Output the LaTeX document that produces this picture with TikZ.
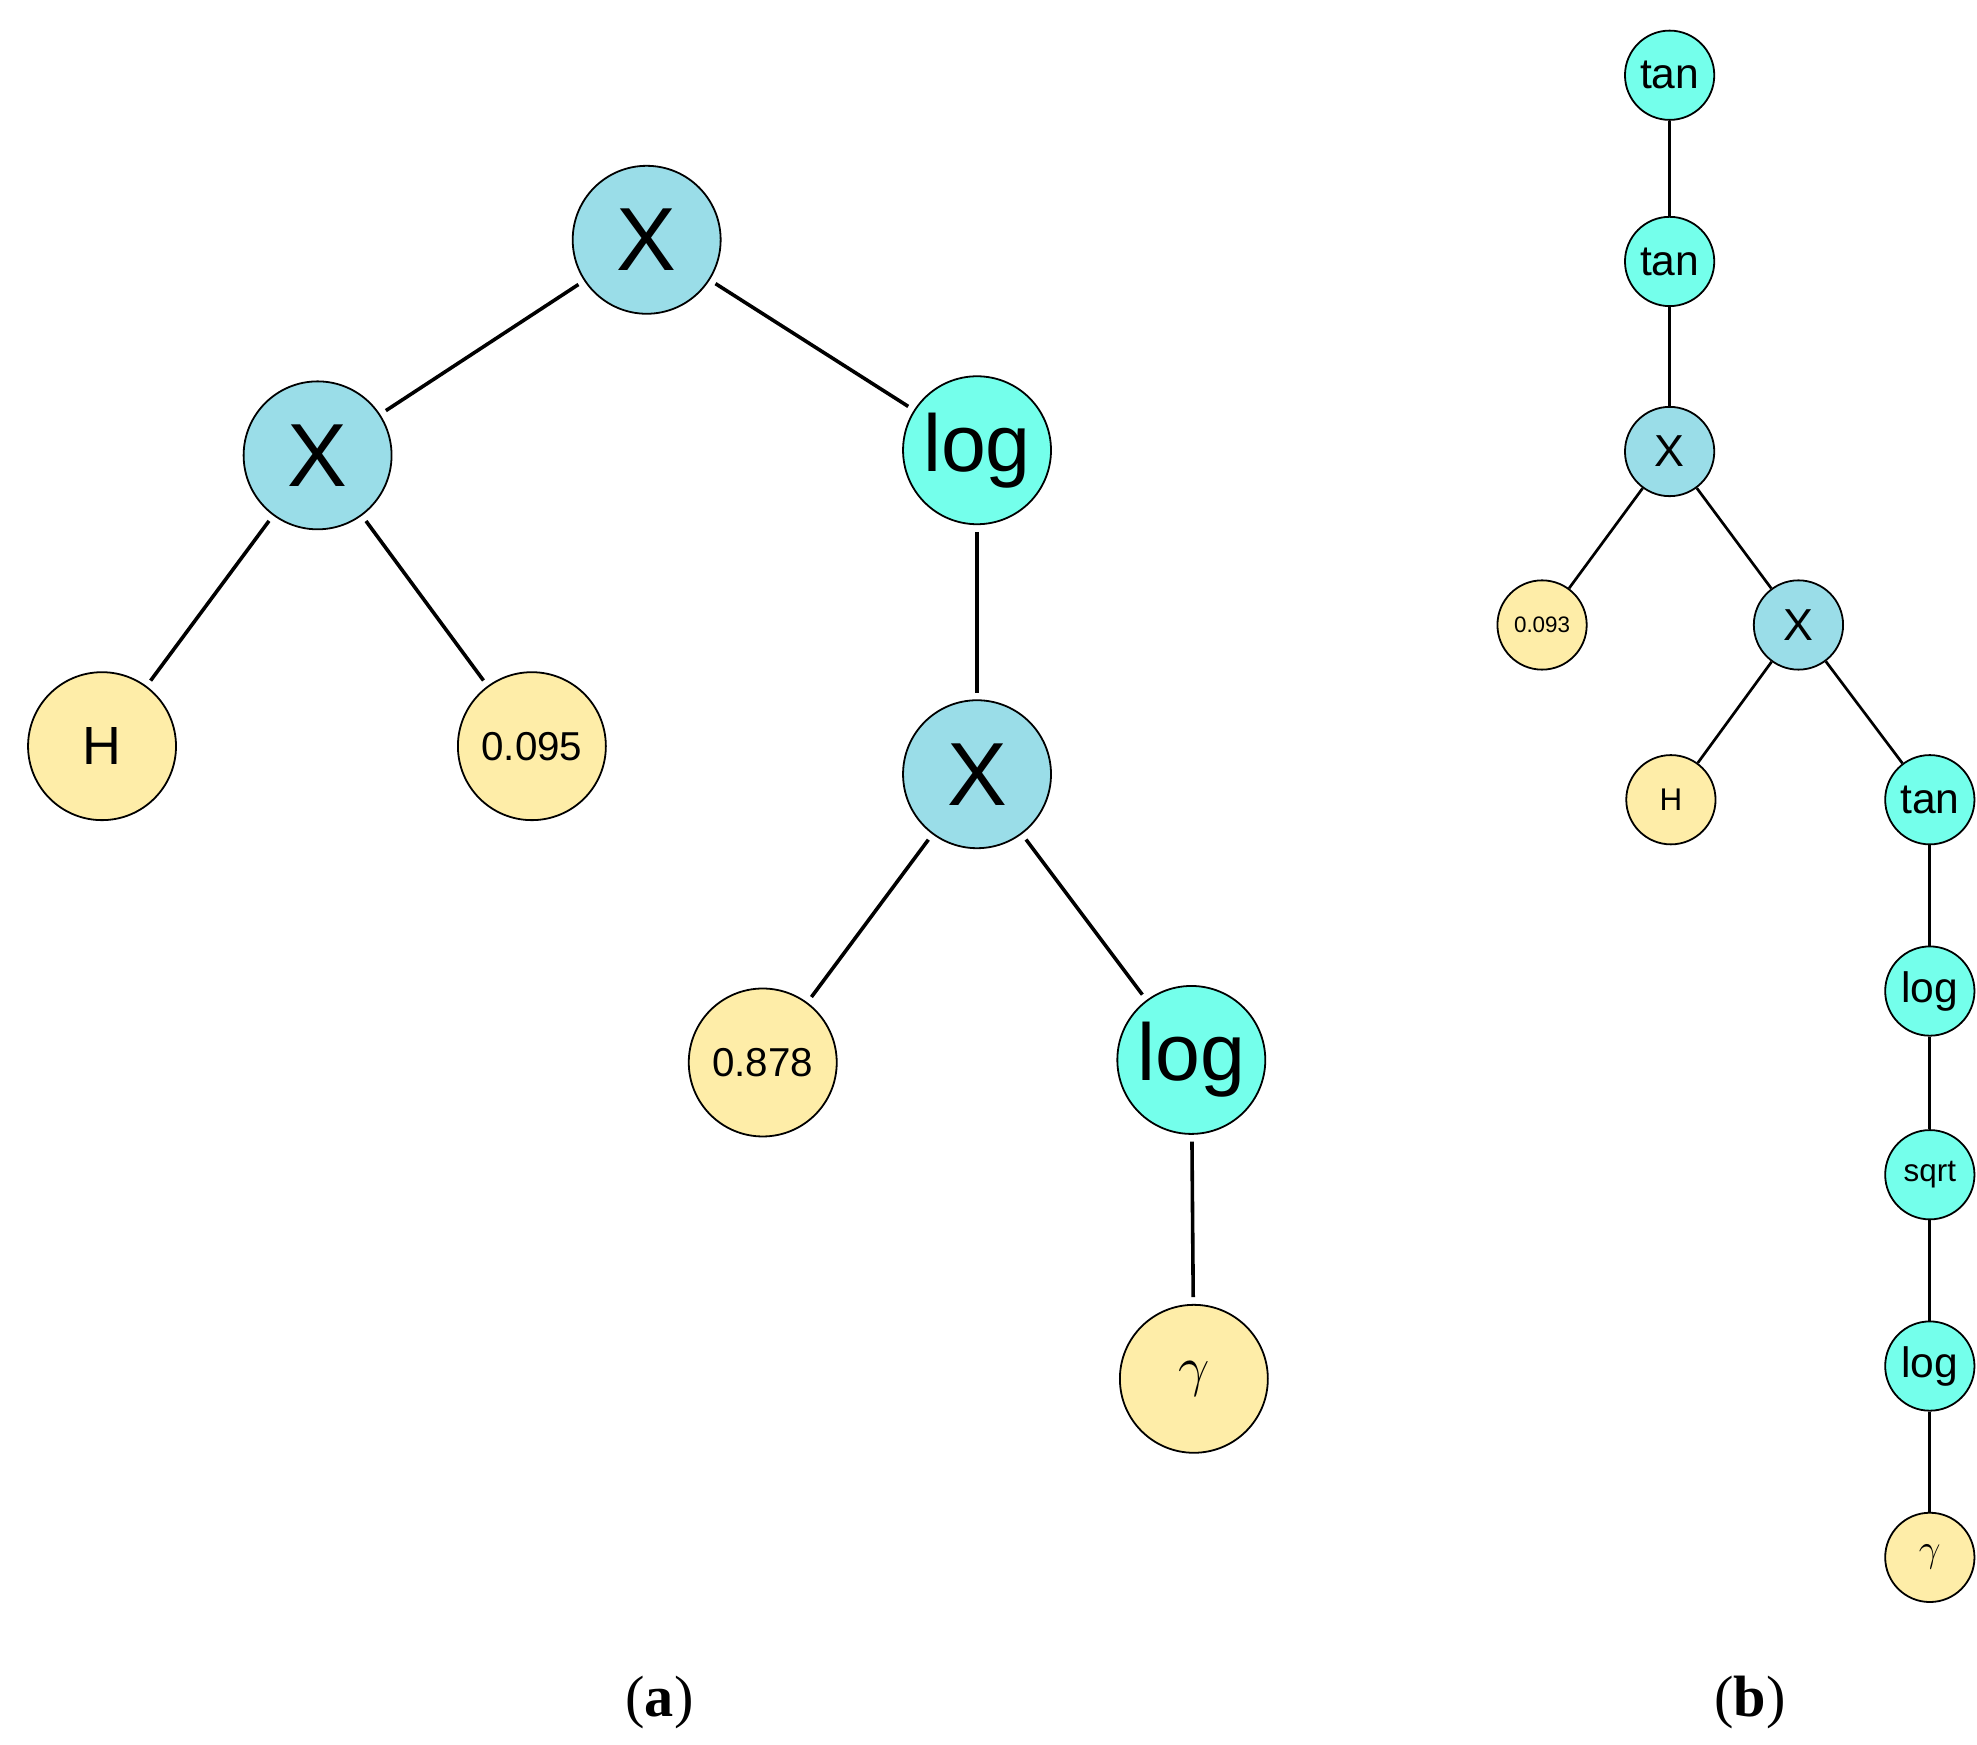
\documentclass[tikz,border=0pt]{standalone}
\usepackage{fontspec}
\setmainfont{Liberation Sans}
\newfontfamily\serif{Liberation Serif}
\begin{document}
\begin{tikzpicture}[x=0.02cm,y=-0.02cm,
 n/.style={circle,draw=black,line width=0.8pt,inner sep=0pt},
 big/.style={n,minimum size=116*0.02cm},
 sm/.style={n,minimum size=70*0.02cm},
 bl/.style={fill={rgb,255:red,154;green,221;blue,232}},
 cy/.style={fill={rgb,255:red,116;green,255;blue,235}},
 ye/.style={fill={rgb,255:red,254;green,237;blue,168}},
 e/.style={line width=1.6pt,shorten <=3pt,shorten >=3pt},
 es/.style={line width=1.2pt}]
\useasboundingbox (0,0) rectangle (1550,1368);
% (a)
\node[big,bl,font=\fontsize{40}{40}\selectfont] (r) at (507,188) {X};
\node[big,bl,font=\fontsize{40}{40}\selectfont] (x1) at (249,357) {X};
\node[big,cy,font=\fontsize{36}{36}\selectfont] (l1) at (766,353) {log};
\node[big,ye,font=\fontsize{24}{24}\selectfont] (h) at (80,585) {H};
\node[big,ye,font=\fontsize{18}{18}\selectfont] (c1) at (417,585) {0.095};
\node[big,bl,font=\fontsize{40}{40}\selectfont] (x2) at (766,607) {X};
\node[big,ye,font=\fontsize{18}{18}\selectfont] (c2) at (598,833) {0.878};
\node[big,cy,font=\fontsize{36}{36}\selectfont] (l2) at (934,831) {log};
\node[big,ye,font=\fontsize{30}{30}\selectfont] (g) at (936,1081) {$\gamma$};
\draw[e] (r)--(x1); \draw[e] (r)--(l1);
\draw[e] (x1)--(h); \draw[e] (x1)--(c1);
\draw[e] (l1)--(x2); \draw[e] (x2)--(c2); \draw[e] (x2)--(l2); \draw[e] (l2)--(g);
% (b)
\node[sm,cy,font=\fontsize{19}{19}\selectfont] (t1) at (1309,59) {tan};
\node[sm,cy,font=\fontsize{19}{19}\selectfont] (t2) at (1309,205) {tan};
\node[sm,bl,font=\fontsize{20}{20}\selectfont] (bx1) at (1309,354) {X};
\node[sm,ye,font=\fontsize{10}{10}\selectfont] (b093) at (1209,490) {0.093};
\node[sm,bl,font=\fontsize{20}{20}\selectfont] (bx2) at (1410,490) {X};
\node[sm,ye,font=\fontsize{14}{14}\selectfont] (bh) at (1310,627) {H};
\node[sm,cy,font=\fontsize{19}{19}\selectfont] (t3) at (1513,627) {tan};
\node[sm,cy,font=\fontsize{19}{19}\selectfont] (bl1) at (1513,777) {log};
\node[sm,cy,font=\fontsize{14}{14}\selectfont] (sq) at (1513,921) {sqrt};
\node[sm,cy,font=\fontsize{19}{19}\selectfont] (bl2) at (1513,1071) {log};
\node[sm,ye,font=\fontsize{18}{18}\selectfont] (bg) at (1513,1221) {$\gamma$};
\draw[es] (t1)--(t2); \draw[es] (t2)--(bx1); \draw[es] (bx1)--(b093); \draw[es] (bx1)--(bx2);
\draw[es] (bx2)--(bh); \draw[es] (bx2)--(t3); \draw[es] (t3)--(bl1); \draw[es] (bl1)--(sq);
\draw[es] (sq)--(bl2); \draw[es] (bl2)--(bg);
\node[font=\serif\fontsize{26}{26}\selectfont] (la) at (517,1335) {(\textbf{a})};
\node[font=\serif\fontsize{26}{26}\selectfont] (lb) at (1372,1335) {(\textbf{b})};
\end{tikzpicture}
\end{document}
